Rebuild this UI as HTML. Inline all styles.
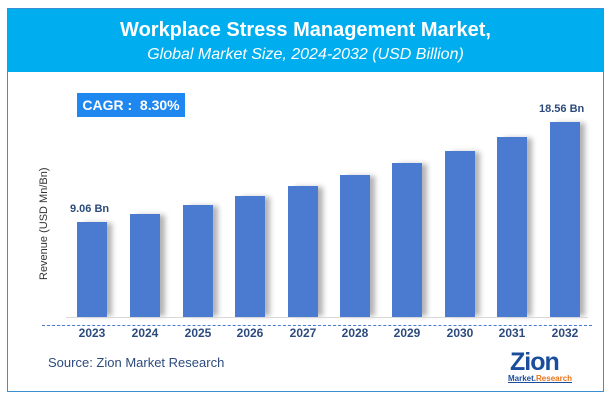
<!DOCTYPE html>
<html><head><style>
body{margin:0;width:613px;height:402px;background:#fff;font-family:"Liberation Sans",sans-serif;position:relative;overflow:hidden}
.frame{position:absolute;left:7px;top:8px;width:597px;height:384px;border:1px solid #3a8fd0;box-sizing:border-box}
.hdr{position:absolute;left:8px;top:9px;width:595px;height:63px;background:#00aeef;color:#fff;text-align:center}
.t1{font-weight:bold;font-size:20px;margin-top:10px}
.t2{font-style:italic;font-size:16px;margin-top:4px}
.cagr{position:absolute;left:77px;top:93px;width:108px;height:24px;background:#1e88f0;color:#fff;font-weight:bold;font-size:14px;line-height:24px;text-align:center}
.bar{position:absolute;width:30px;background:#4a7bd0;box-shadow:6px 0 5px -1px rgba(0,0,0,0.3)}
.yr{position:absolute;top:326px;width:50px;text-align:center;font-weight:bold;font-size:12px;color:#2c4b7c}
.lbl{position:absolute;font-weight:bold;font-size:11px;color:#2c4b7c}
</style></head><body>
<div class="frame"></div>
<div class="hdr"><div class="t1">Workplace Stress Management Market,</div><div class="t2">Global Market Size, 2024-2032 (USD Billion)</div></div>
<div class="cagr">CAGR :&nbsp; 8.30%</div>
<div style="position:absolute;left:38px;top:280px;transform:rotate(-90deg);transform-origin:0 0;font-size:11px;color:#333;white-space:nowrap">Revenue (USD Mn/Bn)</div>
<div class="bar" style="left:77px;top:222px;height:95px"></div>
<div class="bar" style="left:130px;top:214px;height:103px"></div>
<div class="bar" style="left:183px;top:205px;height:112px"></div>
<div class="bar" style="left:235px;top:196px;height:121px"></div>
<div class="bar" style="left:288px;top:186px;height:131px"></div>
<div class="bar" style="left:340px;top:175px;height:142px"></div>
<div class="bar" style="left:392px;top:163px;height:154px"></div>
<div class="bar" style="left:445px;top:151px;height:166px"></div>
<div class="bar" style="left:497px;top:137px;height:180px"></div>
<div class="bar" style="left:550px;top:122px;height:195px"></div>
<div style="position:absolute;left:66px;top:317px;width:522px;height:1px;background:#d8d8d8"></div>
<div style="position:absolute;left:42px;top:325px;width:550px;border-top:1px dashed #4a7bd0"></div>
<div class="lbl" style="left:70px;top:203px">9.06 Bn</div>
<div class="lbl" style="left:539px;top:103px">18.56 Bn</div>
<div class="yr" style="left:67px">2023</div><div class="yr" style="left:120px">2024</div><div class="yr" style="left:173px">2025</div><div class="yr" style="left:225px">2026</div><div class="yr" style="left:278px">2027</div><div class="yr" style="left:330px">2028</div><div class="yr" style="left:382px">2029</div><div class="yr" style="left:435px">2030</div><div class="yr" style="left:487px">2031</div><div class="yr" style="left:540px">2032</div>
<div style="position:absolute;left:48px;top:355px;font-size:13px;color:#2c4b7c">Source: Zion Market Research</div>
<div style="position:absolute;left:510px;top:348px;font-size:25px;font-weight:bold;color:#1a4d9c;letter-spacing:-1px">Zion</div>
<div style="position:absolute;left:508px;top:374px;font-size:8px;font-weight:bold;color:#1a4d9c;text-decoration:underline">Market.<span style="color:#e8731a">Research</span></div>
</body></html>
